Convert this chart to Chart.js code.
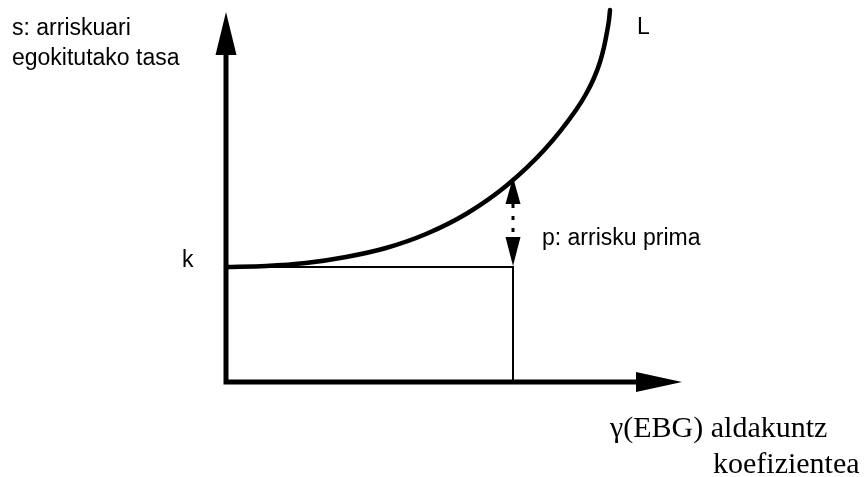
<!DOCTYPE html>
<html>
<head>
<meta charset="utf-8">
<script src="https://cdn.jsdelivr.net/npm/chart.js@4/dist/chart.umd.min.js"></script>
<style>
  html, body { margin: 0; padding: 0; background: #fff; }
  #c { display: block; }
</style>
</head>
<body>
<canvas id="c" width="867" height="477"></canvas>
<script>
// ---- data (units relative to the origin of the diagram) ----
const curveX = [0, 40, 80, 120, 160, 200, 240, 280, 320, 350, 360, 368, 374, 378, 381, 383, 384];
const curveY = [115, 116, 119, 125, 134, 148, 168, 196, 234, 272, 288, 304, 320, 335, 350, 362, 372];
const kLevel = 115;
const gammaPoint = 287;
const xAxisEnd = 410;   // base of x-axis arrowhead
const xAxisTip = 456;
const yAxisEnd = 327;   // base of y-axis arrowhead
const yAxisTip = 370;
const premiumTop = 205; // curve value at gammaPoint
const xRange = [-226, 641];
const yRange = [-95, 382];

const textLabels = ["s: arriskuari", "egokitutako tasa", "k", "L", "p: arrisku prima", "γ(EBG) aldakuntz", "koefizientea"];
const textX = [-214, -214, -44, 411, 316, 384, 487];
const textY = [347, 317, 115, 348, 137, -55, -91];
const textFont = ["sans", "sans", "sans", "sans", "sans", "serif", "serif"];

const curveData = curveX.map((x, i) => ({ x: x, y: curveY[i] }));

const arrowPlugin = {
  id: 'arrows',
  afterDatasetsDraw(chart) {
    const ctx = chart.ctx;
    const xs = chart.scales.x, ys = chart.scales.y;
    const px = v => xs.getPixelForValue(v);
    const py = v => ys.getPixelForValue(v);
    ctx.save();
    ctx.fillStyle = '#000';
    function tri(a, b, c) {
      ctx.beginPath();
      ctx.moveTo(a[0], a[1]); ctx.lineTo(b[0], b[1]); ctx.lineTo(c[0], c[1]);
      ctx.closePath(); ctx.fill();
    }
    // y-axis arrowhead
    tri([px(0), py(yAxisTip)], [px(0) - 10.5, py(yAxisEnd)], [px(0) + 10.5, py(yAxisEnd)]);
    // x-axis arrowhead
    tri([px(xAxisTip), py(0)], [px(xAxisEnd), py(0) - 10], [px(xAxisEnd), py(0) + 10]);
    // premium arrowheads
    const g = px(gammaPoint);
    tri([g, py(premiumTop)], [g - 7.5, py(premiumTop) + 27], [g + 7.5, py(premiumTop) + 27]);
    tri([g, py(kLevel) - 1], [g - 7.5, py(kLevel) - 30], [g + 7.5, py(kLevel) - 30]);
    // texts
    ctx.textAlign = 'left';
    ctx.textBaseline = 'alphabetic';
    textLabels.forEach((t, i) => {
      ctx.font = textFont[i] === 'serif' ? '30px "Liberation Serif", "Times New Roman", serif'
                                          : '23px "Liberation Sans", Arial, sans-serif';
      ctx.fillText(t, px(textX[i]), py(textY[i]));
    });
    ctx.restore();
  }
};

new Chart(document.getElementById('c'), {
  type: 'scatter',
  data: {
    datasets: [
      { data: [{x: 0, y: yAxisEnd}, {x: 0, y: 0}, {x: xAxisEnd, y: 0}], showLine: true,
        borderColor: '#000', borderWidth: 5, pointRadius: 0, borderJoinStyle: 'miter', borderCapStyle: 'butt' },
      { data: [{x: 0, y: kLevel}, {x: gammaPoint, y: kLevel}, {x: gammaPoint, y: 0}], showLine: true,
        borderColor: '#000', borderWidth: 2, pointRadius: 0, borderJoinStyle: 'miter' },
      { data: [{x: gammaPoint, y: premiumTop - 27}, {x: gammaPoint, y: kLevel + 30}], showLine: true,
        borderColor: '#000', borderWidth: 3, pointRadius: 0, borderDash: [4, 8] },
      { data: curveData, showLine: true, borderColor: '#000', borderWidth: 4.5, pointRadius: 0,
        cubicInterpolationMode: 'monotone', borderCapStyle: 'round' }
    ]
  },
  options: {
    responsive: false,
    animation: false,
    events: [],
    layout: { padding: 0 },
    plugins: { legend: { display: false }, tooltip: { enabled: false } },
    scales: {
      x: { type: 'linear', min: xRange[0], max: xRange[1], display: false },
      y: { type: 'linear', min: yRange[0], max: yRange[1], display: false }
    }
  },
  plugins: [arrowPlugin]
});
</script>
</body>
</html>
